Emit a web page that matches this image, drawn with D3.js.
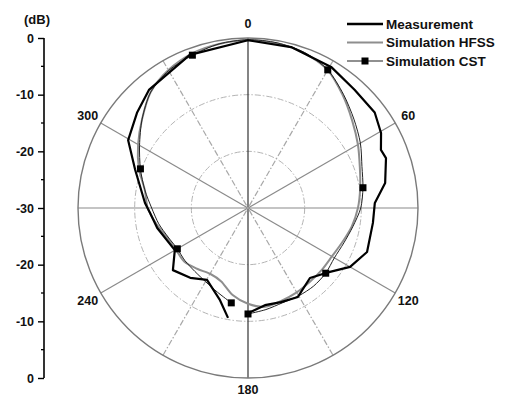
<!DOCTYPE html>
<html>
<head>
<meta charset="utf-8">
<script src="https://cdn.jsdelivr.net/npm/d3@7"></script>
<style>
  body { margin: 0; background: #fff; }
  text { font-family: "Liberation Sans", Arial, Helvetica, sans-serif; font-weight: bold; fill: #111; }
</style>
</head>
<body>
<svg id="chart" width="508" height="397"></svg>
<script>
// Radiation pattern (dB), angles in degrees clockwise from 0 at the top.
// Measurement: sampled from 190 deg round to 180 deg (no data between 180 and 190).
const measAngle = [190.3, 196.9, 209.7, 219.6, 230.4, 240.1, 257.6, 267.1, 272.8, 288.6,
                   299.5, 310.6, 320, 339.2, 0, 15, 30.5, 42, 53, 60.6, 66.4, 70.1, 79.7,
                   87.7, 96.8, 110.3, 120, 129.8, 138.5, 150.7, 160.7, 170.1, 178.9];
const measDb    = [-10.3, -13.0, -15.4, -14.0, -12.8, -15.1, -13.6, -12.7, -11.8, -9.0,
                   -5.7, -4.2, -2.8, -1.1, -0.4, -0.6, -1.1, -1.9, -2.0, -3.05, -4.4, -4.1, -5.4,
                   -7.6, -7.8, -7.6, -9.2, -12.1, -13.5, -12.0, -12.4, -12.6, -11.6];

// HFSS simulation, full turn
const hfssAngle = [0, 10, 20, 30, 40, 50, 60, 70, 80, 90, 100, 110, 120, 130, 140, 150, 160, 170,
                   180, 190, 200, 210, 220, 230, 240, 250, 260, 270, 280, 290, 300, 310, 320, 330, 340, 350];
const hfssDb    = [-0.4, -0.5, -0.9, -1.9, -4.0, -6.0, -7.6, -9.0, -9.9, -10.6, -11.4, -12.3, -12.9, -13.0, -13.0, -12.8, -12.6, -12.3,
                   -13.1, -14.4, -16.2, -16.6, -16.0, -15.3, -15.3, -14.8, -13.6, -12.3, -11.5, -9.5, -7.6, -5.6, -3.3, -1.9, -1.0, -0.6];

// CST simulation, 190 deg round to 180 deg
const cstAngle = [190, 200, 210, 220, 230, 240, 250, 260, 270, 280, 290, 300, 310, 320, 330, 340, 350,
                  0, 10, 20, 30, 40, 50, 60, 70, 80, 90, 100, 110, 120, 130, 140, 150, 160, 170, 180];
const cstDb    = [-13.0, -14.2, -15.0, -15.4, -15.5, -15.6, -15.0, -14.0, -13.0, -11.5, -9.8, -7.9, -5.6, -3.3, -2.0, -1.3, -0.6,
                  -0.3, -0.4, -0.8, -1.85, -3.8, -5.6, -7.1, -8.6, -9.4, -10.1, -11.2, -12.0, -12.4, -12.1, -12.0, -12.1, -12.2, -11.8, -11.3];
const cstMarkerAngle = [190, 240, 290, 340, 30, 80, 130, 180];

// Axes and labels
const angleLabelValues = [0, 60, 120, 180, 240, 300];
const angleLabels = ["0", "60", "120", "180", "240", "300"];
const ringDb = [-10, -20];
const axisTickValues = [0, 10, 20, 30, 40, 50, 60];
const axisTickLabels = ["0", "-10", "-20", "-30", "-20", "-10", "0"];
const seriesNames = ["Measurement", "Simulation HFSS", "Simulation CST"];

const svg = d3.select("#chart");
const cx = 248, cy = 208, R = 170;
const rad = d => d * Math.PI / 180;
const r = d3.scaleLinear().domain([-30, 0]).range([0, R]);

const g = svg.append("g").attr("transform", `translate(${cx},${cy})`);

// dotted rings
g.selectAll("circle.ring").data(ringDb).enter().append("circle")
  .attr("r", d => r(d)).attr("fill", "none")
  .attr("stroke", "#b4b4b4").attr("stroke-width", 1)
  .attr("stroke-dasharray", "6,2,1.5,2");

// spokes: solid through 0/60/90/120, dash-dot through 30/150
const spokes = [
  { a: 0, dash: null, col: "#333" },
  { a: 90, dash: null, col: "#8a8a8a" },
  { a: 60, dash: null, col: "#8a8a8a" },
  { a: 120, dash: null, col: "#8a8a8a" },
  { a: 30, dash: "6,2,1.5,2", col: "#a8a8a8" },
  { a: 150, dash: "6,2,1.5,2", col: "#a8a8a8" }
];
g.selectAll("line.spoke").data(spokes).enter().append("line")
  .attr("x1", d => -R * Math.sin(rad(d.a))).attr("y1", d => R * Math.cos(rad(d.a)))
  .attr("x2", d => R * Math.sin(rad(d.a))).attr("y2", d => -R * Math.cos(rad(d.a)))
  .attr("stroke", d => d.col).attr("stroke-width", 1.2)
  .attr("stroke-dasharray", d => d.dash);

// outer ring (0 dB)
g.append("circle").attr("r", r(0)).attr("fill", "none")
  .attr("stroke", "#7a7a7a").attr("stroke-width", 1.4);

// angle labels (the bottom one sits a little closer so it stays inside the frame)
const labelR = d => (d === 180 ? 181 : 185);
g.selectAll("text.ang").data(angleLabelValues).enter().append("text")
  .attr("x", d => labelR(d) * Math.sin(rad(d)))
  .attr("y", d => -labelR(d) * Math.cos(rad(d)))
  .attr("dy", "0.36em").attr("text-anchor", "middle")
  .attr("font-size", 12.5)
  .text((d, i) => angleLabels[i]);

// series
const radial = d3.lineRadial()
  .angle(d => rad(d[0]))
  .radius(d => r(d[1]));

const hfss = hfssAngle.map((a, i) => [a, hfssDb[i]]);
const cst = cstAngle.map((a, i) => [a, cstDb[i]]);
const meas = measAngle.map((a, i) => [a, measDb[i]]);

g.append("path").datum(hfss)
  .attr("d", radial.curve(d3.curveCardinalClosed.tension(0.2)))
  .attr("fill", "none").attr("stroke", "#8e8e8e").attr("stroke-width", 2);

g.append("path").datum(cst)
  .attr("d", radial.curve(d3.curveCardinal.tension(0.2)))
  .attr("fill", "none").attr("stroke", "#222").attr("stroke-width", 1);

g.append("path").datum(meas)
  .attr("d", radial.curve(d3.curveLinear))
  .attr("fill", "none").attr("stroke", "#000").attr("stroke-width", 2.2)
  .attr("stroke-linejoin", "round");

g.selectAll("rect.mk").data(cst.filter(d => cstMarkerAngle.includes(d[0]))).enter().append("rect")
  .attr("x", d => r(d[1]) * Math.sin(rad(d[0])) - 3.5)
  .attr("y", d => -r(d[1]) * Math.cos(rad(d[0])) - 3.5)
  .attr("width", 7).attr("height", 7).attr("fill", "#000");

// left dB axis, from 0 at the top down through -30 (centre) back to 0
const y = d3.scaleLinear().domain([0, 60]).range([cy - R, cy + R]);
const axis = d3.axisLeft(y).tickValues(axisTickValues)
  .tickFormat((d, i) => axisTickLabels[i]).tickSize(6).tickPadding(4);
const ax = svg.append("g").attr("transform", "translate(44,0)").call(axis);
ax.select(".domain").attr("stroke", "#000").attr("stroke-width", 1.6).attr("d", `M0,${cy - R}V${cy + R}`);
ax.selectAll(".tick line").attr("stroke", "#000").attr("stroke-width", 1.4);
ax.selectAll(".tick text").attr("font-size", 12.5).attr("font-family", null).attr("fill", "#111");
ax.append("g").selectAll("line").data(d3.range(5, 60, 10)).enter().append("line")
  .attr("x1", -3).attr("x2", 0).attr("y1", d => y(d)).attr("y2", d => y(d))
  .attr("stroke", "#000").attr("stroke-width", 1.3);
svg.append("text").attr("x", 37).attr("y", 24).attr("text-anchor", "middle")
  .attr("font-size", 13).text("(dB)");

// legend
const legend = svg.append("g").attr("transform", "translate(347,24)");
const legStyle = [
  { col: "#000", w: 2.4, mark: false },
  { col: "#8e8e8e", w: 2, mark: false },
  { col: "#222", w: 1.2, mark: true }
];
seriesNames.forEach((name, i) => {
  const row = legend.append("g").attr("transform", `translate(0,${i * 18.5})`);
  row.append("line").attr("x1", 0).attr("x2", 36).attr("y1", 0).attr("y2", 0)
    .attr("stroke", legStyle[i].col).attr("stroke-width", legStyle[i].w);
  if (legStyle[i].mark) row.append("rect").attr("x", 14.5).attr("y", -3.5).attr("width", 7).attr("height", 7).attr("fill", "#000");
  row.append("text").attr("x", 39).attr("y", 0).attr("dy", "0.36em").attr("font-size", 13.5).text(name);
});
</script>
</body>
</html>
